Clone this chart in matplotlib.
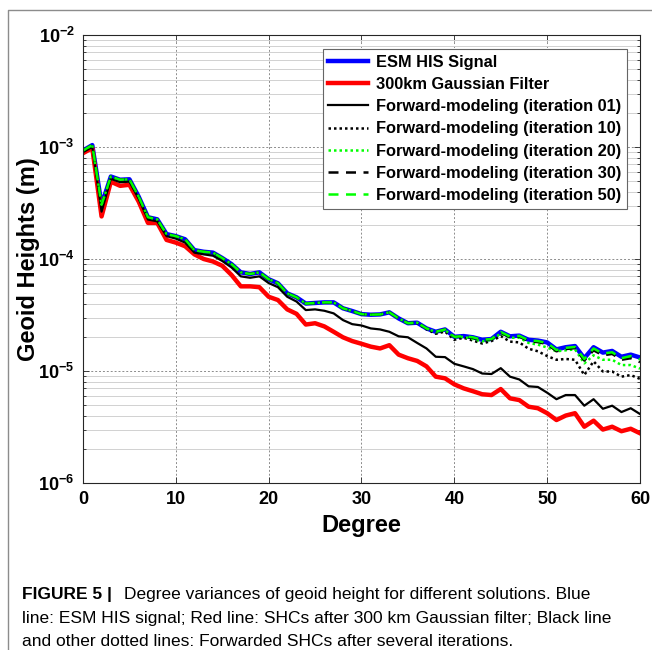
import matplotlib
matplotlib.use("Agg")
import matplotlib.pyplot as plt
from matplotlib.lines import Line2D
from matplotlib.ticker import FixedLocator, FixedFormatter, NullFormatter

plt.rcParams['font.family'] = ['Liberation Sans', 'DejaVu Sans']
plt.rcParams['mathtext.fontset'] = 'custom'
plt.rcParams['mathtext.bf'] = 'Liberation Sans:bold'
plt.rcParams['mathtext.rm'] = 'Liberation Sans:bold'

degree = list(range(61))

esm_signal = [9.3e-4, 1.04e-3, 3.05e-4, 5.45e-4, 5.1e-4, 5.15e-4, 3.6e-4, 2.36e-4, 2.26e-4, 1.67e-4,
              1.6e-4, 1.5e-4, 1.2e-4, 1.16e-4, 1.14e-4, 1.02e-4, 9.0e-5, 7.6e-5, 7.35e-5, 7.6e-5,
              6.6e-5, 6.07e-5, 4.94e-5, 4.55e-5, 4.0e-5, 4.05e-5, 4.1e-5, 4.1e-5, 3.63e-5, 3.43e-5,
              3.22e-5, 3.18e-5, 3.2e-5, 3.34e-5, 2.95e-5, 2.67e-5, 2.7e-5, 2.4e-5, 2.24e-5, 2.35e-5,
              2.02e-5, 2.05e-5, 2.0e-5, 1.9e-5, 1.93e-5, 2.24e-5, 2.04e-5, 2.07e-5, 1.9e-5, 1.87e-5,
              1.8e-5, 1.56e-5, 1.63e-5, 1.67e-5, 1.3e-5, 1.63e-5, 1.46e-5, 1.51e-5, 1.34e-5, 1.4e-5,
              1.32e-5]

gauss_300km = [8.8e-4, 9.8e-4, 2.4e-4, 4.9e-4, 4.5e-4, 4.6e-4, 3.25e-4, 2.1e-4, 2.1e-4, 1.48e-4,
               1.4e-4, 1.3e-4, 1.1e-4, 1.0e-4, 9.5e-5, 8.7e-5, 7.2e-5, 5.7e-5, 5.7e-5, 5.6e-5,
               4.6e-5, 4.3e-5, 3.55e-5, 3.24e-5, 2.6e-5, 2.67e-5, 2.5e-5, 2.24e-5, 2.0e-5, 1.85e-5,
               1.75e-5, 1.65e-5, 1.59e-5, 1.7e-5, 1.4e-5, 1.3e-5, 1.23e-5, 1.1e-5, 8.9e-6, 8.6e-6,
               7.6e-6, 7.0e-6, 6.6e-6, 6.2e-6, 6.1e-6, 6.9e-6, 5.7e-6, 5.5e-6, 4.8e-6, 4.65e-6,
               4.2e-6, 3.65e-6, 4.0e-6, 4.2e-6, 3.18e-6, 3.6e-6, 3.0e-6, 3.18e-6, 2.9e-6, 3.05e-6,
               2.78e-6]

iter_01 = [9.0e-4, 1.0e-3, 2.65e-4, 5.2e-4, 4.85e-4, 4.9e-4, 3.45e-4, 2.25e-4, 2.17e-4, 1.6e-4,
           1.52e-4, 1.4e-4, 1.14e-4, 1.1e-4, 1.07e-4, 9.6e-5, 8.4e-5, 7.0e-5, 6.8e-5, 7.0e-5,
           6.1e-5, 5.6e-5, 4.6e-5, 4.17e-5, 3.5e-5, 3.55e-5, 3.45e-5, 3.27e-5, 2.85e-5, 2.62e-5,
           2.55e-5, 2.4e-5, 2.35e-5, 2.24e-5, 2.04e-5, 2.0e-5, 1.78e-5, 1.59e-5, 1.34e-5, 1.33e-5,
           1.16e-5, 1.1e-5, 1.04e-5, 9.5e-6, 9.4e-6, 1.06e-5, 8.9e-6, 8.4e-6, 7.3e-6, 7.2e-6,
           6.4e-6, 5.6e-6, 6.1e-6, 6.1e-6, 4.9e-6, 5.6e-6, 4.6e-6, 4.9e-6, 4.3e-6, 4.65e-6,
           4.13e-6]

iter_10 = [9.3e-4, 1.04e-3, 3.05e-4, 5.45e-4, 5.1e-4, 5.15e-4, 3.6e-4, 2.36e-4, 2.26e-4, 1.67e-4,
           1.6e-4, 1.5e-4, 1.2e-4, 1.16e-4, 1.14e-4, 1.02e-4, 9.0e-5, 7.6e-5, 7.35e-5, 7.6e-5,
           6.6e-5, 6.07e-5, 4.94e-5, 4.55e-5, 4.0e-5, 4.05e-5, 4.1e-5, 4.1e-5, 3.63e-5, 3.43e-5,
           3.22e-5, 3.18e-5, 3.2e-5, 3.34e-5, 2.95e-5, 2.67e-5, 2.68e-5, 2.36e-5, 2.15e-5, 2.25e-5,
           1.9e-5, 1.98e-5, 1.87e-5, 1.76e-5, 1.85e-5, 2.05e-5, 1.83e-5, 1.8e-5, 1.58e-5, 1.5e-5,
           1.36e-5, 1.26e-5, 1.28e-5, 1.26e-5, 9.2e-6, 1.22e-5, 9.9e-6, 9.9e-6, 8.9e-6, 9.2e-6,
           8.5e-6]

iter_20 = [9.3e-4, 1.04e-3, 3.05e-4, 5.45e-4, 5.1e-4, 5.15e-4, 3.6e-4, 2.36e-4, 2.26e-4, 1.67e-4,
           1.6e-4, 1.5e-4, 1.2e-4, 1.16e-4, 1.14e-4, 1.02e-4, 9.0e-5, 7.6e-5, 7.35e-5, 7.6e-5,
           6.6e-5, 6.07e-5, 4.94e-5, 4.55e-5, 4.0e-5, 4.05e-5, 4.1e-5, 4.1e-5, 3.63e-5, 3.43e-5,
           3.22e-5, 3.18e-5, 3.2e-5, 3.34e-5, 2.95e-5, 2.67e-5, 2.7e-5, 2.4e-5, 2.22e-5, 2.32e-5,
           2.0e-5, 2.02e-5, 1.93e-5, 1.84e-5, 1.9e-5, 2.16e-5, 1.98e-5, 1.98e-5, 1.78e-5, 1.72e-5,
           1.62e-5, 1.5e-5, 1.53e-5, 1.56e-5, 1.17e-5, 1.38e-5, 1.26e-5, 1.26e-5, 1.13e-5, 1.13e-5,
           1.05e-5]

iter_30 = [9.3e-4, 1.04e-3, 3.05e-4, 5.45e-4, 5.1e-4, 5.15e-4, 3.6e-4, 2.36e-4, 2.26e-4, 1.67e-4,
           1.6e-4, 1.5e-4, 1.2e-4, 1.16e-4, 1.14e-4, 1.02e-4, 9.0e-5, 7.6e-5, 7.35e-5, 7.6e-5,
           6.6e-5, 6.07e-5, 4.94e-5, 4.55e-5, 4.0e-5, 4.05e-5, 4.1e-5, 4.1e-5, 3.63e-5, 3.43e-5,
           3.22e-5, 3.18e-5, 3.2e-5, 3.34e-5, 2.95e-5, 2.67e-5, 2.7e-5, 2.4e-5, 2.24e-5, 2.35e-5,
           2.02e-5, 2.04e-5, 1.98e-5, 1.88e-5, 1.92e-5, 2.2e-5, 2.0e-5, 2.03e-5, 1.85e-5, 1.81e-5,
           1.74e-5, 1.5e-5, 1.57e-5, 1.6e-5, 1.24e-5, 1.53e-5, 1.38e-5, 1.42e-5, 1.26e-5, 1.3e-5,
           1.2e-5]

iter_50 = [9.3e-4, 1.04e-3, 3.05e-4, 5.45e-4, 5.1e-4, 5.15e-4, 3.6e-4, 2.36e-4, 2.26e-4, 1.67e-4,
           1.6e-4, 1.5e-4, 1.2e-4, 1.16e-4, 1.14e-4, 1.02e-4, 9.0e-5, 7.6e-5, 7.35e-5, 7.6e-5,
           6.6e-5, 6.07e-5, 4.94e-5, 4.55e-5, 4.0e-5, 4.05e-5, 4.1e-5, 4.1e-5, 3.63e-5, 3.43e-5,
           3.22e-5, 3.18e-5, 3.2e-5, 3.34e-5, 2.95e-5, 2.67e-5, 2.7e-5, 2.4e-5, 2.24e-5, 2.35e-5,
           2.02e-5, 2.05e-5, 2.0e-5, 1.9e-5, 1.93e-5, 2.23e-5, 2.03e-5, 2.06e-5, 1.88e-5, 1.85e-5,
           1.78e-5, 1.54e-5, 1.61e-5, 1.64e-5, 1.28e-5, 1.59e-5, 1.43e-5, 1.47e-5, 1.3e-5, 1.36e-5,
           1.27e-5]

legend_labels = ["ESM HIS Signal", "300km Gaussian Filter",
                 "Forward-modeling (iteration 01)", "Forward-modeling (iteration 10)",
                 "Forward-modeling (iteration 20)", "Forward-modeling (iteration 30)",
                 "Forward-modeling (iteration 50)"]

y_ticks = [1e-6, 1e-5, 1e-4, 1e-3, 1e-2]
y_tick_labels = [r"$\mathbf{10^{-6}}$", r"$\mathbf{10^{-5}}$", r"$\mathbf{10^{-4}}$",
                 r"$\mathbf{10^{-3}}$", r"$\mathbf{10^{-2}}$"]
x_ticks = [0, 10, 20, 30, 40, 50, 60]

caption_bold = "FIGURE 5 |"
caption_first = "Degree variances of geoid height for different solutions. Blue"
caption_rest = ["line: ESM HIS signal; Red line: SHCs after 300 km Gaussian filter; Black line",
                "and other dotted lines: Forwarded SHCs after several iterations."]

W, H = 652, 650
fig = plt.figure(figsize=(W / 100, H / 100), dpi=100)
ax = fig.add_axes([83 / W, 1 - 483 / H, 557 / W, 448 / H])

green = (0.0, 1.0, 0.0)
ax.plot(degree, esm_signal, color=(0, 0, 1), lw=3.2, label=legend_labels[0])
ax.plot(degree, gauss_300km, color=(1, 0, 0), lw=3.2, label=legend_labels[1])
ax.plot(degree, iter_01, color="k", lw=1.6, label=legend_labels[2])
ax.plot(degree, iter_10, color="k", lw=1.8, ls=(0, (1, 1.2)), label=legend_labels[3])
ax.plot(degree, iter_20, color=green, lw=1.8, ls=(0, (1, 1.2)), label=legend_labels[4])
ax.plot(degree, iter_30, color="k", lw=1.8, ls=(0, (4, 3)), label=legend_labels[5])
ax.plot(degree, iter_50, color=green, lw=1.8, ls=(0, (4, 3)), label=legend_labels[6])

ax.set_yscale("log")
ax.set_xlim(0, 60)
ax.set_ylim(1e-6, 1e-2)
ax.xaxis.set_major_locator(FixedLocator(x_ticks))
ax.yaxis.set_major_locator(FixedLocator(y_ticks))
ax.yaxis.set_major_formatter(FixedFormatter(y_tick_labels))
minor = [m * 10.0 ** e for e in range(-6, -2) for m in range(2, 10)]
ax.yaxis.set_minor_locator(FixedLocator(minor))
ax.yaxis.set_minor_formatter(NullFormatter())

ax.grid(which="major", axis="both", ls=(0, (2, 2)), color="0.55", lw=0.7)
ax.grid(which="minor", axis="y", ls="-", color="0.82", lw=0.7)
ax.set_axisbelow(True)

for s in ax.spines.values():
    s.set_color("0.15")
    s.set_linewidth(0.8)
ax.tick_params(which="both", direction="in", top=True, right=True, colors="0.15",
               labelcolor="black", width=0.6)
ax.tick_params(which="major", length=4, labelsize=13, pad=6)
ax.tick_params(which="minor", length=2)
for lab in ax.get_xticklabels():
    lab.set_fontweight("bold")

ax.set_xlabel("Degree", fontsize=17, fontweight="bold", labelpad=4)
ax.set_ylabel("Geoid Heights (m)", fontsize=17, fontweight="bold")
ax.yaxis.set_label_coords(-0.078, 0.5)

leg = ax.legend(loc="upper right", bbox_to_anchor=(627 / W, 1 - 49 / H),
                bbox_transform=fig.transFigure, prop={"weight": "bold", "size": 11.8},
                frameon=True, fancybox=False, framealpha=1, edgecolor="0.4",
                handlelength=2.4, handletextpad=0.5, labelspacing=0.44, borderpad=0.35,
                borderaxespad=0)
leg.get_frame().set_linewidth(0.8)

# figure frame
fig.add_artist(Line2D([8 / W, 8 / W, 1], [0, 1 - 10 / H, 1 - 10 / H],
                      transform=fig.transFigure, color="0.55", lw=1))

cap_size = 12.5
fig.text(22 / W, 1 - 595 / H, caption_bold, fontsize=cap_size, fontweight="bold", va="center")
fig.text(124 / W, 1 - 595 / H, caption_first, fontsize=cap_size, va="center")
for i, line in enumerate(caption_rest):
    fig.text(22 / W, 1 - (618 + 23 * i) / H, line, fontsize=cap_size, va="center")

fig.savefig("out.png", dpi=100)
